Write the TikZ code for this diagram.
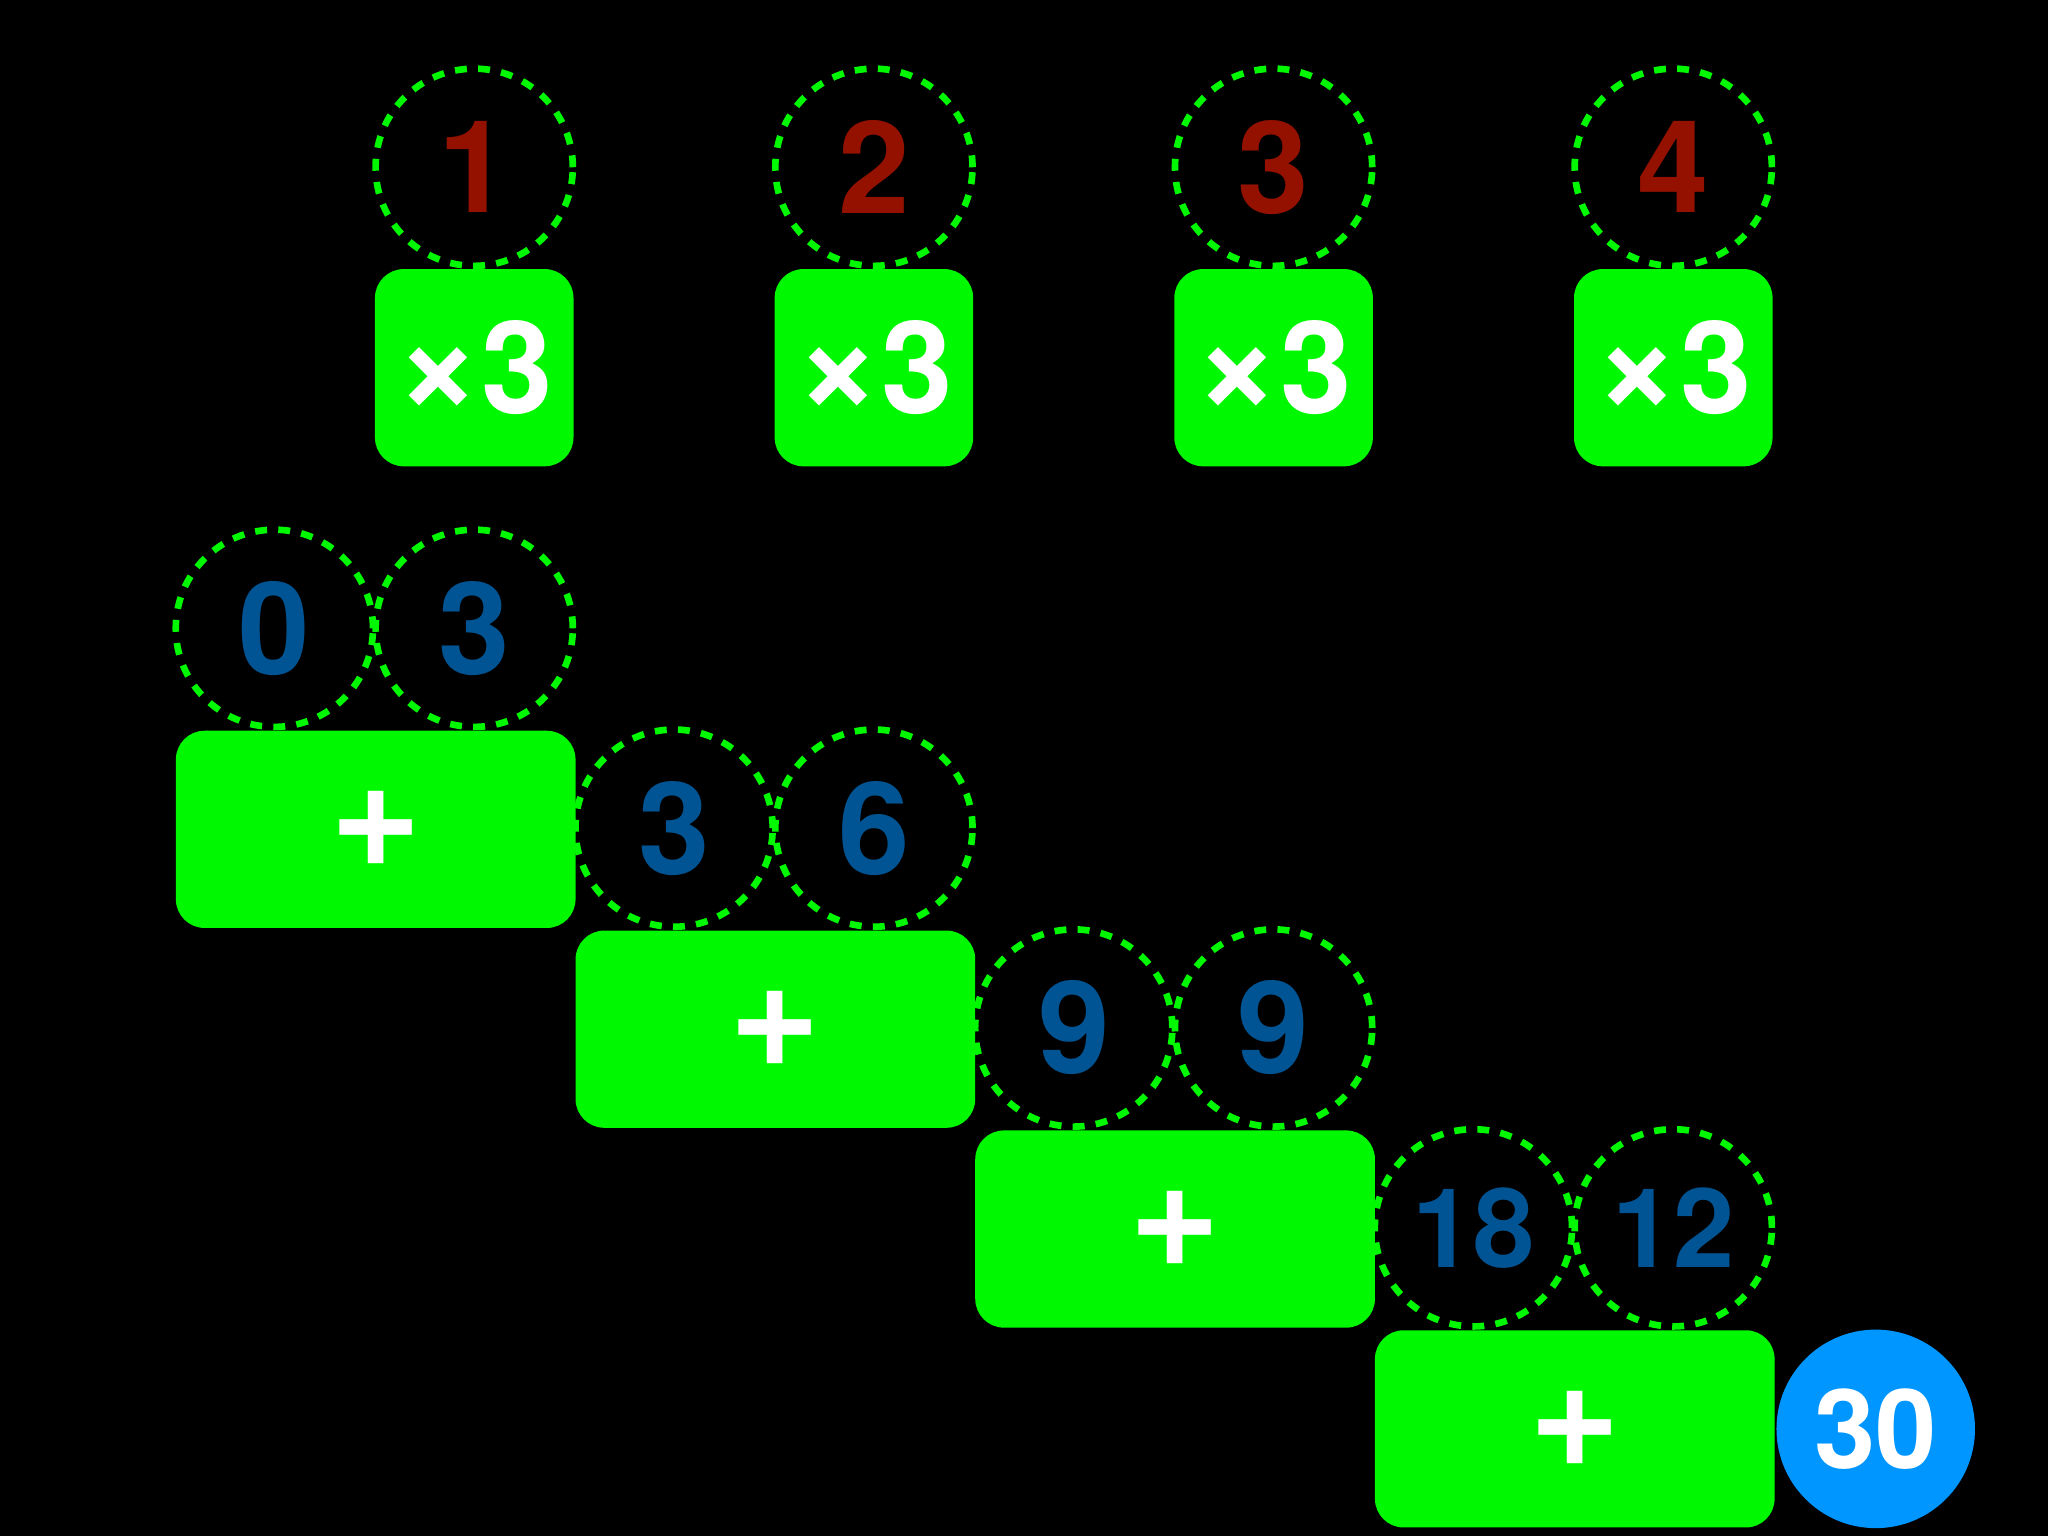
\documentclass[tikz,border=0pt]{standalone}
\usepackage{fontspec}
\setsansfont{TeX Gyre Heros}

\definecolor{lime}{HTML}{00F900}
\definecolor{cayenne}{HTML}{941100}
\definecolor{ocean}{HTML}{005493}
\definecolor{aqua}{HTML}{0096FF}

\newcommand{\bigsize}{\sffamily\bfseries\fontsize{28}{30}\selectfont}
\newcommand{\twosize}{\sffamily\bfseries\fontsize{24}{26}\selectfont}
\newcommand{\opsize}{\sffamily\bfseries\fontsize{34}{36}\selectfont}

\tikzset{
    val/.style={circle, draw=lime, line width=1.45pt, dash pattern=on 2.6pt off 2.45pt,
        minimum size=1.51cm, inner sep=0pt, font=\bigsize},
    opbox/.style={fill=lime, rounded corners=0.22cm, minimum height=1.51cm,
        inner sep=0pt, text=white, font=\bigsize},
    mulbox/.style={opbox, minimum width=1.52cm},
    addbox/.style={opbox, minimum width=3.06cm, font=\opsize}
}

\begin{document}
\begin{tikzpicture}[x=1.53cm, y=-1.53cm]
        \fill[black] (0,0) rectangle (10.248,7.686);
        % inputs and the map step
        \foreach \n [count=\i from 0] in {1,2,3,4}
        {
            \node[val, text=cayenne] (in\n) at (2.373+2*\i,0.837) {\n};
            \node[mulbox] (mul\n) at (2.373+2*\i,1.84) {{\fontsize{32}{34}\selectfont ×}3};
        }
        % the fold, one row after another
        \foreach \a/\b [count=\k from 0] in {0/3,3/6,9/9}
        {
            \node[val, text=ocean] (acc\k) at (1.373+2*\k,3.144+\k) {\a};
            \node[val, text=ocean] (elt\k) at (2.373+2*\k,3.144+\k) {\b};
            \node[addbox] (add\k) at (1.88+2*\k,4.15+\k) {+};
        }
        \node[val, text=ocean, font=\twosize] (acc3) at (7.373,6.144) {18};
        \node[val, text=ocean, font=\twosize] (elt3) at (8.373,6.144) {12};
        \node[addbox] (add3) at (7.88,7.15) {+};
        \node[circle, fill=aqua, minimum size=1.52cm, inner sep=0pt, text=white, font=\twosize] (res) at (9.386,7.15) {30};
\end{tikzpicture}
\end{document}
